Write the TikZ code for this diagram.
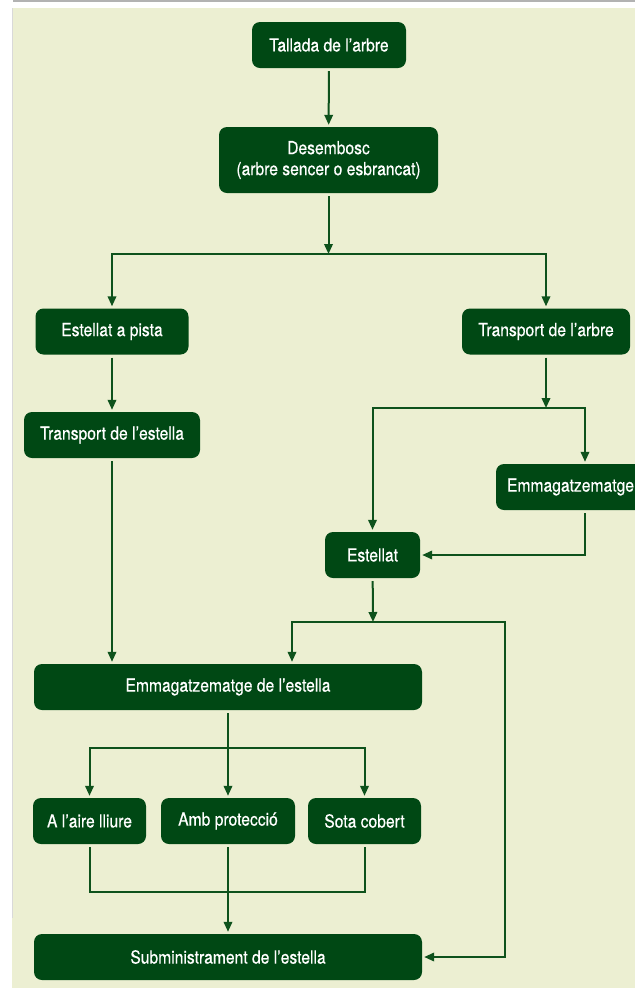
\documentclass[tikz,border=0pt]{standalone}
\usepackage{fontspec}
\setmainfont{TeX Gyre Heros}[FakeStretch=0.87,FakeBold=0.5]
\usetikzlibrary{arrows.meta}
\definecolor{dkgreen}{RGB}{0,72,20}
\definecolor{lngreen}{RGB}{14,82,28}
\definecolor{bgbeige}{RGB}{236,239,210}
\begin{document}
\begin{tikzpicture}[x=1pt,y=-1pt,
  box/.style={fill=dkgreen, rounded corners=8pt, text=white, inner sep=0pt,
    minimum height=46pt, align=center, font=\fontsize{18}{21}\selectfont},
  arr/.style={draw=lngreen, line width=2pt, shorten <=3pt,
    -{Triangle[length=10pt,width=8.5pt]}},
  ln/.style={draw=lngreen, line width=2pt, shorten <=3pt}]
\useasboundingbox (0,0) rectangle (635,989);
\clip (0,0) rectangle (635,989);
\fill[bgbeige] (12,8) rectangle (636,988);
\draw[black!30, line width=2pt] (13,1) -- (636,1);
\draw[black!15, line width=1pt] (12.5,8) -- (12.5,918);

\node[box, minimum width=154pt] (t1) at (329,45) {Tallada de l'arbre};
\node[box, minimum width=219pt, minimum height=66pt] (t2) at (328.5,160) {Desembosc\\(arbre sencer o esbrancat)};
\node[box, minimum width=153pt] (t3) at (112,331.5) {Estellat a pista};
\node[box, minimum width=168pt] (t4) at (546,331.5) {Transport de l'arbre};
\node[box, minimum width=176pt] (t5) at (112,435) {Transport de l'estella};
\node[box, minimum width=178pt, text width=156pt, inner xsep=11pt, align=left] (t6) at (585,487) {Emmagatzematge};
\node[box, minimum width=95pt] (t7) at (372.5,555) {Estellat};
\node[box, minimum width=388pt] (t8) at (228,687) {Emmagatzematge de l'estella};
\node[box, minimum width=113pt] (t9) at (89.5,821) {A l'aire lliure};
\node[box, minimum width=134pt] (t10) at (228,821) {Amb protecció};
\node[box, minimum width=113pt] (t11) at (364.5,821) {Sota cobert};
\node[box, minimum width=388pt] (t12) at (228,957) {Subministrament de l'estella};

\coordinate (b1) at (328.5,254);
\coordinate (b2) at (546,408);
\coordinate (b3) at (373,622);
\coordinate (c1) at (292,622);
\coordinate (c2) at (505,622);
\coordinate (b4) at (228,748);
\coordinate (b5) at (228,892);

\draw[arr, shorten >=2pt] (t1) -- (t2);
\draw[arr] (t2) -- (b1);
\draw[arr, shorten <=0pt, shorten >=2pt] (b1) -| (t3);
\draw[arr, shorten <=0pt, shorten >=2pt] (b1) -| (t4);
\draw[arr, shorten >=2pt] (t3) -- (t5);
\draw[arr] (t4) -- (b2);
\draw[arr, shorten <=0pt, shorten >=2pt] (b2) -| (t7);
\draw[arr, shorten <=0pt, shorten >=2pt] (b2) -| (t6);
\draw[arr, shorten >=2pt] (t6.south) |- (t7.east);
\draw[arr] (t7) -- (b3);
\draw[arr, shorten <=0pt, shorten >=2pt] (b3) -- (c1) -- (c1 |- t8.north);
\draw[arr, shorten <=0pt, shorten >=2pt] (b3) -- (c2) |- (t12.east);
\draw[arr, shorten >=2pt] (t5) -- (t5 |- t8.north);
\draw[arr, shorten >=2pt] (t8) -- (t10);
\draw[arr, shorten <=0pt, shorten >=2pt] (b4) -| (t9);
\draw[arr, shorten <=0pt, shorten >=2pt] (b4) -| (t11);
\draw[ln, shorten >=3pt] (t9.south) |- (b5) -| (t11.south);
\draw[arr, shorten >=2pt] (t10) -- (t12);
\end{tikzpicture}
\end{document}
